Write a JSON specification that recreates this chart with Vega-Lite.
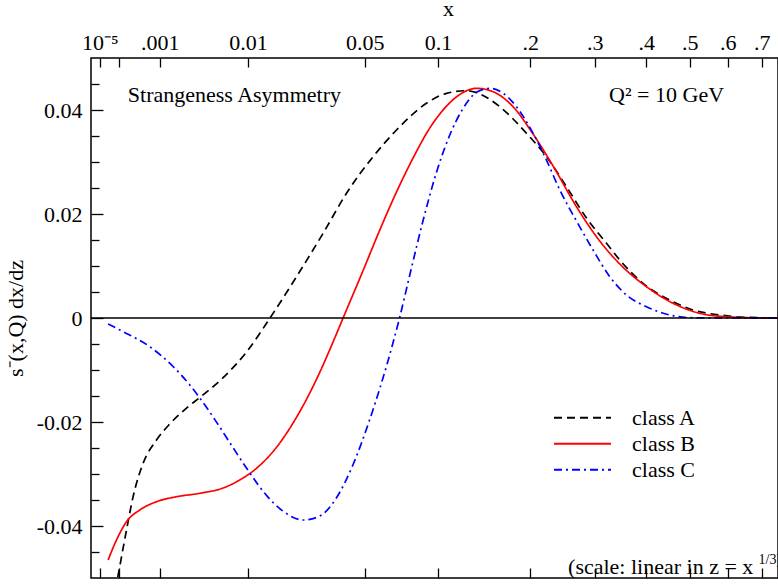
{
  "$schema": "https://vega.github.io/schema/vega-lite/v6.json",
  "width": 687,
  "height": 520,
  "autosize": {"type": "none"},
  "padding": {"left": 91, "top": 58, "right": 0, "bottom": 6},
  "background": "white",
  "config": {
    "view": {"stroke": "black", "strokeWidth": 1.5},
    "font": "Liberation Serif",
    "axis": {
      "domain": false,
      "grid": false,
      "tickColor": "black",
      "tickWidth": 1.3,
      "labelFont": "Liberation Serif",
      "labelFontSize": 22,
      "labelColor": "black",
      "labelFlush": false,
      "labelOverlap": false,
      "titleFont": "Liberation Serif",
      "titleFontSize": 22,
      "titleFontWeight": "normal",
      "titleColor": "black"
    },
    "text": {"font": "Liberation Serif", "fontSize": 22, "color": "black"}
  },
  "datasets": {
    "curves": [
      {"cls": "class A", "x": 7.372e-5, "y": -0.0523},
      {"cls": "class A", "x": 1.0237e-4, "y": -0.04846},
      {"cls": "class A", "x": 1.8e-4, "y": -0.04077},
      {"cls": "class A", "x": 2.759e-4, "y": -0.03437},
      {"cls": "class A", "x": 4.779e-4, "y": -0.02794},
      {"cls": "class A", "x": 8.77e-4, "y": -0.02346},
      {"cls": "class A", "x": 1.4479e-3, "y": -0.02038},
      {"cls": "class A", "x": 2.459e-3, "y": -0.01733},
      {"cls": "class A", "x": 3.539e-3, "y": -0.01529},
      {"cls": "class A", "x": 6.117e-3, "y": -0.01148},
      {"cls": "class A", "x": 9.733e-3, "y": -0.00654},
      {"cls": "class A", "x": 0.014527, "y": -0.00006},
      {"cls": "class A", "x": 0.021704, "y": 0.00794},
      {"cls": "class A", "x": 0.030888, "y": 0.01629},
      {"cls": "class A", "x": 0.040843, "y": 0.02398},
      {"cls": "class A", "x": 0.054522, "y": 0.03102},
      {"cls": "class A", "x": 0.068829, "y": 0.03615},
      {"cls": "class A", "x": 0.090566, "y": 0.04129},
      {"cls": "class A", "x": 0.10734, "y": 0.04321},
      {"cls": "class A", "x": 0.12607, "y": 0.04371},
      {"cls": "class A", "x": 0.13621, "y": 0.04333},
      {"cls": "class A", "x": 0.16189, "y": 0.04063},
      {"cls": "class A", "x": 0.19506, "y": 0.03552},
      {"cls": "class A", "x": 0.22269, "y": 0.03102},
      {"cls": "class A", "x": 0.25279, "y": 0.02525},
      {"cls": "class A", "x": 0.28551, "y": 0.01923},
      {"cls": "class A", "x": 0.32093, "y": 0.01437},
      {"cls": "class A", "x": 0.34604, "y": 0.01115},
      {"cls": "class A", "x": 0.39311, "y": 0.00667},
      {"cls": "class A", "x": 0.45208, "y": 0.00346},
      {"cls": "class A", "x": 0.50816, "y": 0.00154},
      {"cls": "class A", "x": 0.57786, "y": 0.00058},
      {"cls": "class A", "x": 0.65368, "y": 0.00013},
      {"cls": "class A", "x": 0.74646, "y": 0.00002},
      {"cls": "class A", "x": 1.0, "y": 0},
      {"cls": "class B", "x": 3.395e-5, "y": -0.04654},
      {"cls": "class B", "x": 8.158e-5, "y": -0.04269},
      {"cls": "class B", "x": 1.8e-4, "y": -0.03917},
      {"cls": "class B", "x": 4.031e-4, "y": -0.03692},
      {"cls": "class B", "x": 8.77e-4, "y": -0.03533},
      {"cls": "class B", "x": 1.8114e-3, "y": -0.03437},
      {"cls": "class B", "x": 3.539e-3, "y": -0.03371},
      {"cls": "class B", "x": 6.117e-3, "y": -0.03269},
      {"cls": "class B", "x": 8.582e-3, "y": -0.03115},
      {"cls": "class B", "x": 0.011634, "y": -0.0289},
      {"cls": "class B", "x": 0.01615, "y": -0.02487},
      {"cls": "class B", "x": 0.021704, "y": -0.0191},
      {"cls": "class B", "x": 0.028406, "y": -0.01179},
      {"cls": "class B", "x": 0.034915, "y": -0.0046},
      {"cls": "class B", "x": 0.039279, "y": 0.0},
      {"cls": "class B", "x": 0.049072, "y": 0.00913},
      {"cls": "class B", "x": 0.058394, "y": 0.01692},
      {"cls": "class B", "x": 0.068829, "y": 0.02423},
      {"cls": "class B", "x": 0.080365, "y": 0.03077},
      {"cls": "class B", "x": 0.093207, "y": 0.03654},
      {"cls": "class B", "x": 0.10151, "y": 0.03923},
      {"cls": "class B", "x": 0.11958, "y": 0.04298},
      {"cls": "class B", "x": 0.13621, "y": 0.04417},
      {"cls": "class B", "x": 0.1542, "y": 0.04352},
      {"cls": "class B", "x": 0.1779, "y": 0.04063},
      {"cls": "class B", "x": 0.20391, "y": 0.03538},
      {"cls": "class B", "x": 0.23235, "y": 0.02923},
      {"cls": "class B", "x": 0.26882, "y": 0.0214},
      {"cls": "class B", "x": 0.30287, "y": 0.01563},
      {"cls": "class B", "x": 0.34604, "y": 0.01038},
      {"cls": "class B", "x": 0.40032, "y": 0.00602},
      {"cls": "class B", "x": 0.45977, "y": 0.00283},
      {"cls": "class B", "x": 0.52507, "y": 0.0009},
      {"cls": "class B", "x": 0.5963, "y": 0.00025},
      {"cls": "class B", "x": 0.69381, "y": 0.00002},
      {"cls": "class B", "x": 1.0, "y": 0},
      {"cls": "class C", "x": 3.395e-5, "y": -0.00115},
      {"cls": "class C", "x": 1.407e-4, "y": -0.00263},
      {"cls": "class C", "x": 6.574e-4, "y": -0.00552},
      {"cls": "class C", "x": 1.62e-3, "y": -0.00933},
      {"cls": "class C", "x": 2.703e-3, "y": -0.01287},
      {"cls": "class C", "x": 3.539e-3, "y": -0.01537},
      {"cls": "class C", "x": 5.291e-3, "y": -0.02002},
      {"cls": "class C", "x": 7.526e-3, "y": -0.02496},
      {"cls": "class C", "x": 0.010336, "y": -0.02979},
      {"cls": "class C", "x": 0.013769, "y": -0.03412},
      {"cls": "class C", "x": 0.017864, "y": -0.03715},
      {"cls": "class C", "x": 0.023784, "y": -0.03885},
      {"cls": "class C", "x": 0.02963, "y": -0.03808},
      {"cls": "class C", "x": 0.03636, "y": -0.03456},
      {"cls": "class C", "x": 0.043994, "y": -0.02817},
      {"cls": "class C", "x": 0.05268, "y": -0.0195},
      {"cls": "class C", "x": 0.066612, "y": -0.00471},
      {"cls": "class C", "x": 0.071029, "y": 0.00019},
      {"cls": "class C", "x": 0.077974, "y": 0.00827},
      {"cls": "class C", "x": 0.087901, "y": 0.01875},
      {"cls": "class C", "x": 0.098716, "y": 0.02802},
      {"cls": "class C", "x": 0.11029, "y": 0.03519},
      {"cls": "class C", "x": 0.12275, "y": 0.04031},
      {"cls": "class C", "x": 0.13621, "y": 0.0434},
      {"cls": "class C", "x": 0.1505, "y": 0.04417},
      {"cls": "class C", "x": 0.16577, "y": 0.04321},
      {"cls": "class C", "x": 0.18215, "y": 0.04063},
      {"cls": "class C", "x": 0.20391, "y": 0.03552},
      {"cls": "class C", "x": 0.22269, "y": 0.03038},
      {"cls": "class C", "x": 0.24243, "y": 0.02462},
      {"cls": "class C", "x": 0.26882, "y": 0.01865},
      {"cls": "class C", "x": 0.29689, "y": 0.01308},
      {"cls": "class C", "x": 0.32704, "y": 0.00794},
      {"cls": "class C", "x": 0.35915, "y": 0.00442},
      {"cls": "class C", "x": 0.40032, "y": 0.00217},
      {"cls": "class C", "x": 0.45208, "y": 0.00058},
      {"cls": "class C", "x": 0.50816, "y": 0.00005},
      {"cls": "class C", "x": 1.0, "y": 0}
    ],
    "notes": [
      {"x": 1.967e-4, "y": 0.0416, "label": "Strangeness Asymmetry"},
      {"x": 0.3258, "y": 0.0416, "label": "Q² = 10 GeV"},
      {"x": 0.2553, "y": -0.04923, "label": "(scale: linear in z = x"}
    ],
    "sup": [
      {"x": 0.69, "y": -0.0473, "label": "1/3)"}
    ]
  },
  "layer": [
    {
      "data": {"name": "curves"},
      "mark": {"type": "line", "clip": true, "strokeWidth": 1.7, "interpolate": "monotone"},
      "encoding": {
        "x": {
          "field": "x",
          "type": "quantitative",
          "scale": {"type": "pow", "exponent": 0.3333333333333333, "domain": [1e-6, 0.7514], "nice": false, "zero": false},
          "axis": {
            "orient": "top",
            "values": [1e-5, 1e-4, 0.001, 0.01, 0.05, 0.1, 0.2, 0.3, 0.4, 0.5, 0.6, 0.7],
            "labelExpr": "datum.value < 2e-5 ? '10⁻⁵' : datum.value < 5e-4 ? '' : datum.value < 0.005 ? '.001' : datum.value < 0.03 ? '0.01' : datum.value < 0.07 ? '0.05' : datum.value < 0.15 ? '0.1' : '.' + format(datum.value * 10, '.0f')",
            "tickSize": -9,
            "labelPadding": 18,
            "labelBaseline": "alphabetic",
            "title": "x",
            "titleX": 357,
            "titleY": -43,
            "titleAngle": 0,
            "titleAlign": "center",
            "titleBaseline": "alphabetic"
          }
        },
        "y": {
          "field": "y",
          "type": "quantitative",
          "scale": {"domain": [-0.05, 0.05], "nice": false, "zero": false},
          "axis": {
            "orient": "left",
            "values": [-0.04, -0.02, 0, 0.02, 0.04],
            "labelExpr": "datum.value == 0 ? '0' : (datum.value < 0 ? '-' : '') + format(abs(datum.value), '.2f')",
            "tickSize": -12,
            "labelPadding": 21,
            "title": "s⁻(x,Q) dx/dz",
            "titleX": -69,
            "titleY": 260,
            "titleAngle": 270,
            "titleAlign": "center",
            "titleBaseline": "alphabetic"
          }
        },
        "color": {
          "field": "cls",
          "type": "nominal",
          "scale": {"domain": ["class A", "class B", "class C"], "range": ["#000000", "#ff0000", "#0000ff"]},
          "legend": {
            "title": null,
            "orient": "none",
            "legendX": 462,
            "legendY": 348,
            "symbolType": "stroke",
            "symbolSize": 3249,
            "symbolStrokeWidth": 1.8,
            "labelFont": "Liberation Serif",
            "labelFontSize": 22,
            "labelColor": "black",
            "labelOffset": 20,
            "clipHeight": 23.5,
            "rowPadding": 2,
            "padding": 0
          }
        },
        "strokeDash": {
          "field": "cls",
          "type": "nominal",
          "scale": {"domain": ["class A", "class B", "class C"], "range": [[8, 5], [1, 0], [8, 4, 2, 4]]},
          "legend": {
            "title": null,
            "orient": "none",
            "legendX": 462,
            "legendY": 348,
            "symbolType": "stroke",
            "symbolSize": 3249,
            "symbolStrokeWidth": 1.8,
            "labelFont": "Liberation Serif",
            "labelFontSize": 22,
            "labelColor": "black",
            "labelOffset": 20,
            "clipHeight": 23.5,
            "rowPadding": 2,
            "padding": 0
          }
        }
      }
    },
    {
      "data": {"values": [{"y": 0}]},
      "mark": {"type": "rule", "color": "black", "strokeWidth": 1.3},
      "encoding": {
        "y": {
          "field": "y",
          "type": "quantitative",
          "scale": {"domain": [-0.05, 0.05], "nice": false, "zero": false},
          "axis": {
            "orient": "left",
            "values": [-0.045, -0.035, -0.03, -0.025, -0.015, -0.01, -0.005, 0.005, 0.01, 0.015, 0.025, 0.03, 0.035, 0.045],
            "labels": false,
            "tickSize": -8,
            "title": null
          }
        }
      }
    },
    {
      "data": {"name": "notes"},
      "mark": {"type": "text", "align": "left", "baseline": "alphabetic"},
      "encoding": {
        "x": {
          "field": "x",
          "type": "quantitative",
          "scale": {"type": "pow", "exponent": 0.3333333333333333, "domain": [1e-6, 0.7514], "nice": false, "zero": false},
          "axis": {
            "orient": "bottom",
            "values": [1e-5, 1e-4, 0.001, 0.01, 0.05, 0.1, 0.2, 0.3, 0.4, 0.5, 0.6, 0.7],
            "labels": false,
            "tickSize": -10,
            "title": null
          }
        },
        "y": {
          "field": "y",
          "type": "quantitative",
          "scale": {"domain": [-0.05, 0.05], "nice": false, "zero": false},
          "axis": null
        },
        "text": {"field": "label"}
      }
    },
    {
      "data": {"name": "sup"},
      "mark": {"type": "text", "align": "left", "baseline": "alphabetic", "fontSize": 14},
      "encoding": {
        "x": {
          "field": "x",
          "type": "quantitative",
          "scale": {"type": "pow", "exponent": 0.3333333333333333, "domain": [1e-6, 0.7514], "nice": false, "zero": false},
          "axis": null
        },
        "y": {
          "field": "y",
          "type": "quantitative",
          "scale": {"domain": [-0.05, 0.05], "nice": false, "zero": false},
          "axis": null
        },
        "text": {"field": "label"}
      }
    }
  ],
  "resolve": {"axis": {"x": "independent", "y": "independent"}}
}
